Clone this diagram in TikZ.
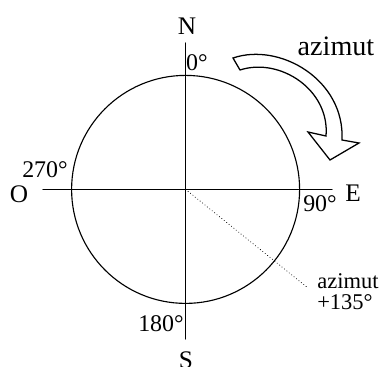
\documentclass[tikz,border=0pt]{standalone}
\usepackage{fontspec}
\setmainfont{Liberation Serif}
\usepackage{tikz}
\usetikzlibrary{calc}
\usepackage{tkz-euclide}

\begin{document}
\begin{tikzpicture}[lbl/.style={inner sep=0pt, font=\fontsize{18}{20}\selectfont},
                    deg/.style={inner sep=0pt, font=\fontsize{17}{19}\selectfont},
                    note/.style={inner sep=0pt, anchor=base west, font=\fontsize{16}{18}\selectfont}]
            \useasboundingbox (0,0) rectangle (9.55,9.175);
            \tkzDefPoints{4.64/4.44/C, 4.64/8.1/N, 4.64/0.7/S, 1.075/4.44/O, 8.3/4.44/E, 7.49/4.44/R, 7.7/1.975/D}
            \tkzDrawCircle[black, line width=0.8pt](C,R)
            \tkzDrawSegments[black, line width=0.8pt](N,S O,E)
            \tkzDrawSegment[black, dotted, line width=0.6pt](C,D)
            \draw[line width=0.9pt, line join=miter] (5.825,7.725) .. controls (7.0,8.125) and (8.625,7.175) .. (8.55,5.675)
                -- (8.975,5.6) -- (8.25,5.175) -- (7.7,5.875) -- (8.15,5.775)
                .. controls (8.25,6.925) and (7.0,7.75) .. (6.0,7.425) -- cycle;
            \node[lbl] (labN) at (4.675,8.525) {N};
            \node[lbl] (labS) at (4.65,0.175) {S};
            \node[lbl] (labO) at (0.475,4.325) {O};
            \node[lbl] (labE) at (8.825,4.35) {E};
            \node[deg] (deg0) at (4.925,7.6) {0°};
            \node[deg] (deg90) at (8.0,4.075) {90°};
            \node[deg] (deg180) at (4.025,1.075) {180°};
            \node[deg] (deg270) at (1.125,4.925) {270°};
            \node[inner sep=0pt, font=\fontsize{20}{22}\selectfont] (labArrow) at (8.4,8.025) {azimut};
            \node[note] (labAz) at (7.925,1.97) {azimut};
            \node[note] (labVal) at (7.925,1.43) {+135°};
        \end{tikzpicture}
\end{document}
